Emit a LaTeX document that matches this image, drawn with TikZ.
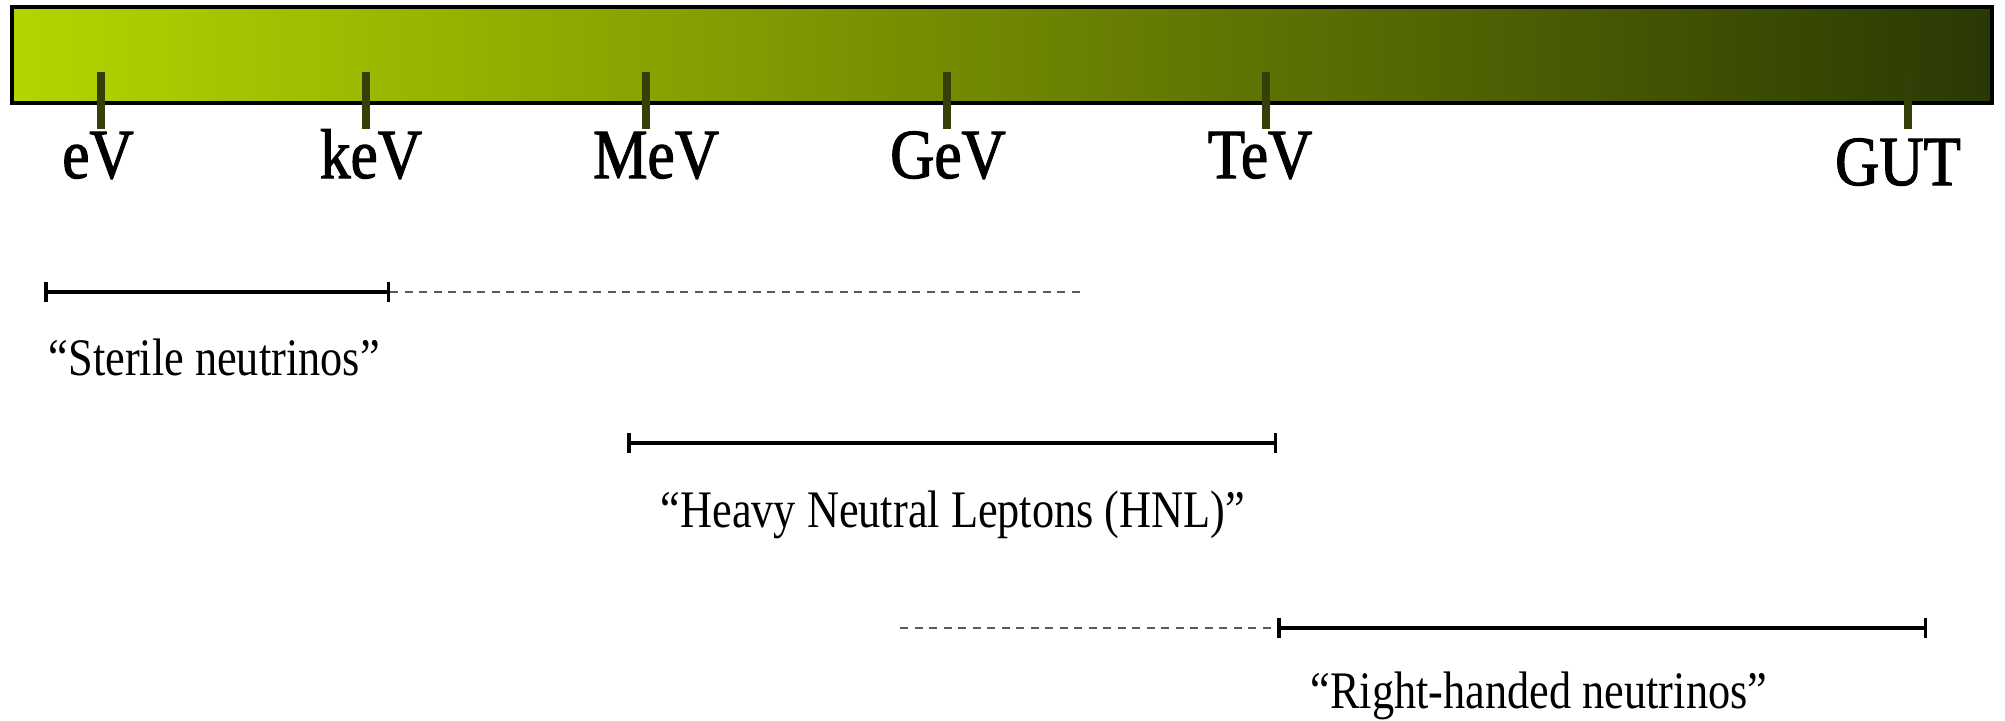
\documentclass[tikz,border=0pt]{standalone}
\usepackage{fontspec}
\usetikzlibrary{arrows.meta}

\newfontfamily\unitfont{Liberation Serif}[FakeStretch=0.87, FakeBold=1.6]
\newfontfamily\rangefont{Liberation Serif}[FakeStretch=0.84]

\definecolor{barlight}{RGB}{180,213,0}
\definecolor{bardark}{RGB}{42,57,4}
\definecolor{tickolive}{RGB}{52,64,8}
\definecolor{dashgray}{RGB}{90,90,90}

\tikzset{
  unitlabel/.style={anchor=base, inner sep=0pt, font=\unitfont\fontsize{20}{24}\selectfont},
  rangelabel/.style={anchor=base west, inner sep=0pt, font=\rangefont\fontsize{15}{18}\selectfont},
  unittick/.style={tickolive, line width=0.08cm},
  rangebar/.style={line width=0.035cm, {Bar[width=0.2cm]}-{Bar[width=0.2cm]}},
  rangeext/.style={dashgray, line width=0.013cm, dash pattern=on 0.08cm off 0.065cm}
}

\begin{document}
\begin{tikzpicture}[x=0.01cm, y=-0.01cm]
  \useasboundingbox (0,0) rectangle (2005,720);

  % Energy bar
  \shade[left color=barlight, right color=bardark] (12,7) rectangle (1992,103);
  \draw[line width=0.04cm] (12,7) rectangle (1992,103);

  % Scale marks and units
  \foreach \x/\cx/\u/\name in {101/98/eV/ev, 366/371/keV/kev, 646/656/MeV/mev, 947/948/GeV/gev, 1266/1260/TeV/tev} {
    \draw[unittick] (\x,72) -- (\x,129);
    \node[unitlabel] (\name) at (\cx,178) {\u};
  }
  \draw[unittick] (1908,72) -- (1908,129);
  \node[unitlabel] (gut) at (1898,185) {GUT};

  % Sterile neutrinos
  \coordinate (sn-lo) at (44,292);
  \coordinate (sn-hi) at (390,292);
  \coordinate (sn-ext) at (1080,292);
  \draw[rangeext] (sn-hi) -- (sn-ext);
  \draw[rangebar] (sn-lo) -- (sn-hi);
  \node[rangelabel] (sn) at (48,375) {“Sterile neutrinos”};

  % Heavy neutral leptons
  \coordinate (hnl-lo) at (627,443);
  \coordinate (hnl-hi) at (1277,443);
  \draw[rangebar] (hnl-lo) -- (hnl-hi);
  \node[rangelabel] (hnl) at (660,527) {“Heavy Neutral Leptons (HNL)”};

  % Right-handed neutrinos
  \coordinate (rh-ext) at (900,628);
  \coordinate (rh-lo) at (1277,628);
  \coordinate (rh-hi) at (1927,628);
  \draw[rangeext] (rh-ext) -- (rh-lo);
  \draw[rangebar] (rh-lo) -- (rh-hi);
  \node[rangelabel] (rh) at (1310,708) {“Right-handed neutrinos”};
\end{tikzpicture}
\end{document}
